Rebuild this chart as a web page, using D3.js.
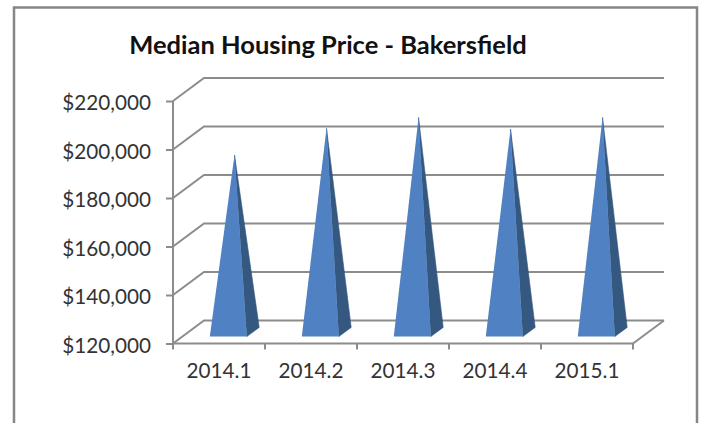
<!DOCTYPE html>
<html lang="en">
<head>
<meta charset="utf-8">
<title>Median Housing Price - Bakersfield</title>
<script src="https://cdnjs.cloudflare.com/ajax/libs/d3/7.8.5/d3.min.js"></script>
<style>
  html, body { margin: 0; padding: 0; background: #fff; }
  svg { display: block; font-family: Lato, "Open Sans", sans-serif; }
  .domain { display: none; }
  .tick line { stroke: #8c8c8c; stroke-width: 2; }
  .tick text { fill: #333; font-family: Lato, "Open Sans", sans-serif; font-size: 20.7px; }
</style>
</head>
<body>
<svg width="703" height="423"></svg>
<script>
var titleText = "Median Housing Price - Bakersfield";
var quarters = ["2014.1", "2014.2", "2014.3", "2014.4", "2015.1"];
var prices = [193000, 204000, 208500, 203700, 208500];
var priceTicks = [120000, 140000, 160000, 180000, 200000, 220000];

var svg = d3.select("svg");
var gridColor = "#8c8c8c";

// front plane of the fake 3d box, depth is the offset to the back wall
var left = 173, right = 633, bottom = 343.5, top_ = 101;
var depthX = 31, depthY = -23;

var x = d3.scaleBand().domain(quarters).range([left, right]);
var y = d3.scaleLinear().domain([120000, 220000]).range([bottom, top_]);

// outer frame, open at the bottom of the window
svg.append("path")
    .attr("d", "M14,423V7.5H697V423")
    .attr("fill", "none")
    .attr("stroke", "#868686")
    .attr("stroke-width", 2.5);

svg.append("text")
    .attr("x", 328)
    .attr("y", 54)
    .attr("text-anchor", "middle")
    .attr("font-weight", 700)
    .attr("font-size", 25.5)
    .attr("fill", "#111")
    .text(titleText);

// gridlines: diagonal on the side wall, then flat along the back wall
svg.append("g")
  .selectAll("path")
  .data(priceTicks)
  .enter()
  .append("path")
    .attr("d", d => "M" + left + "," + y(d)
        + "L" + (left + depthX) + "," + (y(d) + depthY)
        + "H" + (right + depthX))
    .attr("fill", "none")
    .attr("stroke", gridColor)
    .attr("stroke-width", 2);

// floor edge on the right
svg.append("line")
    .attr("x1", right)
    .attr("y1", bottom)
    .attr("x2", right + depthX)
    .attr("y2", bottom + depthY)
    .attr("stroke", gridColor)
    .attr("stroke-width", 2);

// left wall and front floor edge
svg.append("path")
    .attr("d", "M" + left + "," + top_ + "V" + bottom + "H" + right)
    .attr("fill", "none")
    .attr("stroke", gridColor)
    .attr("stroke-width", 2);

// pyramids: base sits between 30% and 70% of the depth, apex in the middle
var halfBase = 18.5;
function corner(d, offset, depth) {
    var cx = x(d.q) + x.bandwidth() / 2;
    return [cx + offset + depthX * depth, bottom + depthY * depth];
}
var pyramids = svg.append("g")
  .selectAll("g")
  .data(quarters.map((q, i) => ({q: q, v: prices[i]})))
  .enter()
  .append("g");

function apex(d) {
    var cx = x(d.q) + x.bandwidth() / 2;
    return [cx + depthX * 0.5, y(d.v) + depthY * 0.5];
}

// side face gets a thin stroke so no light seam shows at the ridge
pyramids.append("polygon")
    .attr("points", d => [corner(d, halfBase, 0.3), corner(d, halfBase, 0.7), apex(d)].join(" "))
    .attr("fill", "#34587f")
    .attr("stroke", "#34587f")
    .attr("stroke-width", 0.6);

pyramids.append("polygon")
    .attr("points", d => [corner(d, -halfBase, 0.3), corner(d, halfBase, 0.3), apex(d)].join(" "))
    .attr("fill", "#5082c3");

// axes
var yAxis = svg.append("g")
    .attr("transform", "translate(" + left + ",0)")
    .call(d3.axisLeft(y)
        .tickValues(priceTicks)
        .tickSize(7)
        .tickPadding(15)
        .tickFormat(d => "$" + d3.format(",")(d)));
yAxis.selectAll("text").attr("dy", "0.42em");

var xAxis = svg.append("g")
    .attr("transform", "translate(0," + bottom + ")")
    .call(d3.axisBottom(x).tickSize(0).tickPadding(20));

// category ticks sit on the band edges, not the centres
svg.append("g")
  .selectAll("line")
  .data(quarters.map(q => x(q)).concat([right]))
  .enter()
  .append("line")
    .attr("x1", d => d)
    .attr("x2", d => d)
    .attr("y1", bottom)
    .attr("y2", bottom + 6)
    .attr("stroke", gridColor)
    .attr("stroke-width", 2);
</script>
</body>
</html>
